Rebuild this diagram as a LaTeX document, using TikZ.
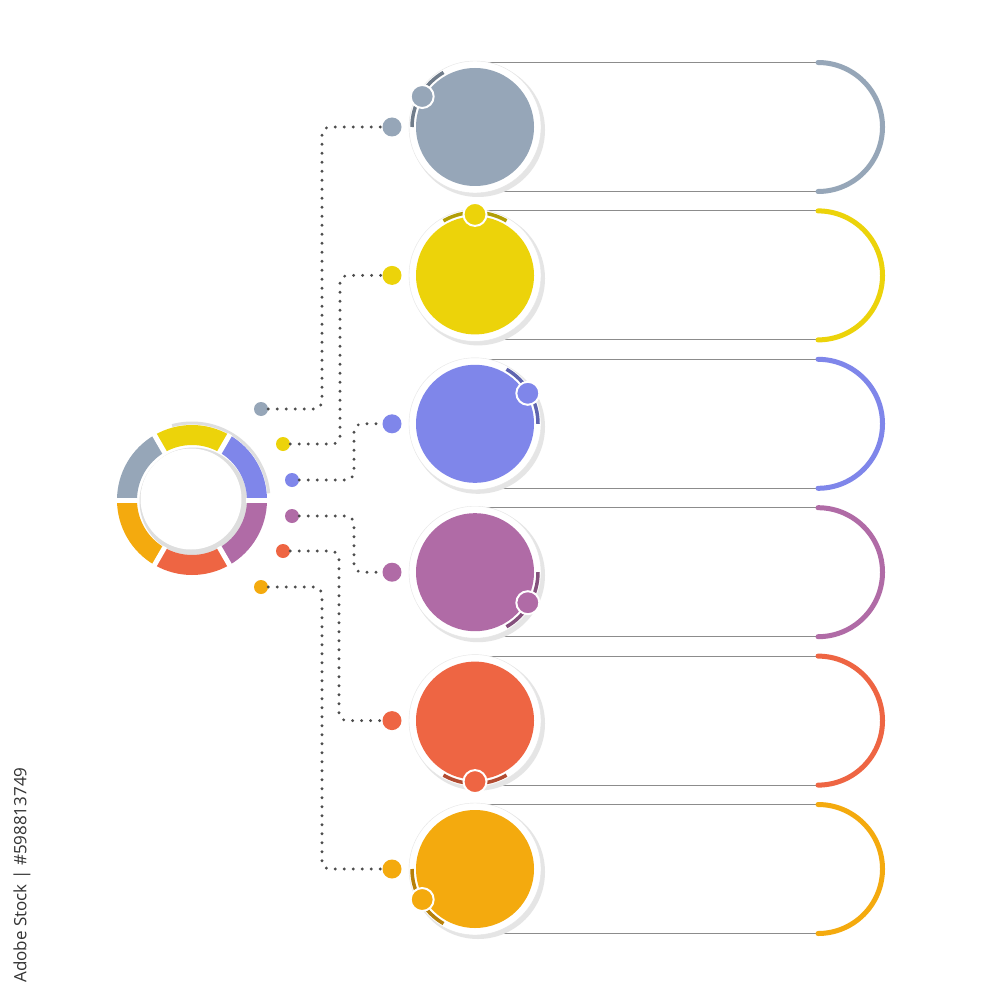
\documentclass[tikz,border=0pt]{standalone}
\usepackage{fontspec}
\newfontfamily\idfont{Open Sans}
\definecolor{info_gray}{RGB}{150, 166, 184}
\definecolor{info_yellow}{RGB}{236, 211, 10}
\definecolor{info_blue}{RGB}{127, 134, 234}
\definecolor{info_purple}{RGB}{176, 107, 166}
\definecolor{info_red}{RGB}{238, 101, 67}
\definecolor{info_orange}{RGB}{244, 170, 14}
\usepackage{tikz}
\usetikzlibrary{calc, positioning}

\begin{document}
\begin{tikzpicture}[
    x=1pt, y=-1pt,
    disc/.style={circle, inner sep=0pt, minimum size=118pt},
    badge/.style={circle, inner sep=0pt, minimum size=23pt, draw=white, line width=2pt},
    pin/.style={circle, inner sep=0pt, minimum size=19pt},
    stub/.style={circle, inner sep=0pt, minimum size=14pt},
    dotline/.style={black!70, line width=3.2pt, line cap=round,
                    dash pattern=on 0pt off 9pt, rounded corners=8pt},
    rule/.style={black!45, line width=1pt},
    endarc/.style={line width=5pt, line cap=round},
  ]
  \useasboundingbox (0,0) rectangle (1000,1000);
  \fill[white] (0,0) rectangle (1000,1000);

  % ring on the left
  \coordinate (ring) at (192,500);
  \draw[black!13, line width=3pt] (ring) ++(5:77pt)
    arc[start angle=5, end angle=105, radius=77pt];
  \fill[black!13] ([shift={(1.5pt,-1.5pt)}]ring) circle[radius=54pt];
  \fill[white] ([shift={(-1pt,1pt)}]ring) circle[radius=50.5pt];
  \foreach \col/\a in {info_blue/0, info_yellow/60, info_gray/120,
                       info_orange/180, info_red/240, info_purple/300}
    \fill[\col] ([shift={(\a:75pt)}]ring)
      arc[start angle=\a, end angle=\a+60, radius=75pt]
      -- ([shift={(\a+60:55pt)}]ring)
      arc[start angle=\a+60, end angle=\a, radius=55pt] -- cycle;
  \foreach \a in {0,60,...,300}
    \draw[white, line width=5pt] ([shift={(\a:54pt)}]ring) -- ([shift={(\a:76pt)}]ring);

  % rows
  \foreach \col/\ang/\sx/\sy/\bx [count=\i] in {
      info_gray/150/261/409/-70, info_yellow/90/283/444/-52,
      info_blue/30/292/480/-38, info_purple/-30/292/516/-38,
      info_red/-90/283/551/-53, info_orange/-150/261/587/-70}{
    \pgfmathsetmacro{\ry}{127+148.4*(\i-1)}
    \coordinate (c\i) at (475,\ry);
    \draw[rule] ([yshift=64.5pt]c\i) -- ++(343pt,0pt) coordinate (ta\i);
    \draw[rule] ([yshift=-64.5pt]c\i) -- ++(343pt,0pt);
    \draw[endarc, \col] (ta\i) arc[start angle=90, end angle=-90, radius=64.5pt];

    \fill[black!10] ([shift={(3pt,-3pt)}]c\i) circle[radius=67pt];
    \filldraw[fill=white, draw=black!10] (c\i) circle[radius=66pt];
    \node[disc, fill=\col] (disc\i) at (c\i) {};
    \draw[\col!75!black, line width=3.5pt] ([shift={(\ang-30:63pt)}]c\i)
      arc[start angle=\ang-30, end angle=\ang+30, radius=63pt];
    \node[badge, fill=\col] (badge\i) at ([shift={(\ang:61pt)}]c\i) {};

    \node[pin, fill=\col] (pin\i) at (392,\ry) {};
    \node[stub, fill=\col] (stub\i) at (\sx,\sy) {};
    \draw[dotline] (stub\i) -| ([xshift=\bx pt]pin\i.center) -- (pin\i);
  }

  \node[rotate=90, text=black!80, font=\idfont\fontsize{17}{17}\selectfont]
    (stockid) at (22,875) {Adobe Stock | \#598813749};
\end{tikzpicture}
\end{document}
